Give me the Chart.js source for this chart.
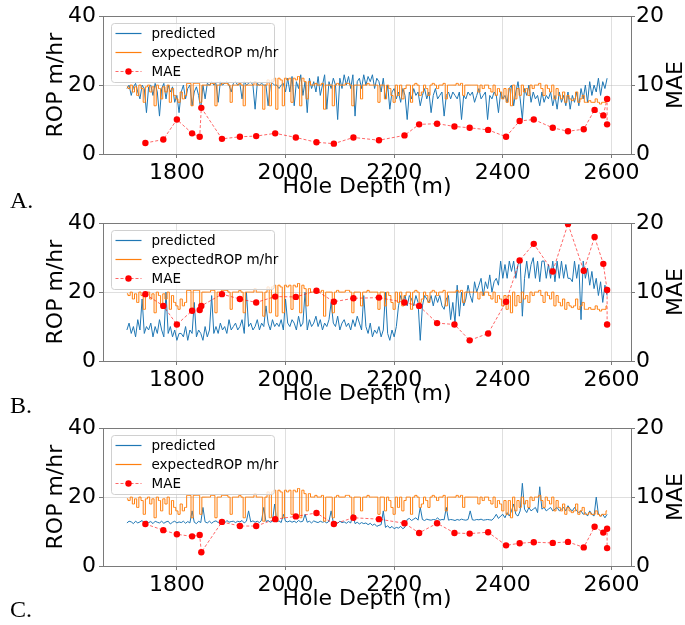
<!DOCTYPE html>
<html>
<head>
<meta charset="utf-8">
<script src="https://cdn.jsdelivr.net/npm/chart.js@4.4.1/dist/chart.umd.min.js"></script>
<style>
  html, body { margin: 0; padding: 0; background: #fff; }
  #wrap { position: relative; width: 685px; height: 625px; overflow: hidden; }
  .panel { position: absolute; left: 0; width: 685px; height: 200px; }
  .tag { position: absolute; left: 10px; font-family: 'Liberation Serif', 'DejaVu Serif', serif; font-size: 24px; line-height: 24px; color: #000; }
</style>
</head>
<body>
<div id="wrap">
  <div class="panel" style="top:0px"><canvas id="chartA" width="685" height="200"></canvas></div>
  <div class="panel" style="top:207px"><canvas id="chartB" width="685" height="200"></canvas></div>
  <div class="panel" style="top:412px"><canvas id="chartC" width="685" height="200"></canvas></div>
  <div class="tag" style="top:188px">A.</div>
  <div class="tag" style="top:393px">B.</div>
  <div class="tag" style="top:597px">C.</div>
</div>
<script>
// depth grid of the ROP traces: 1708 m .. 2592 m every 4 m
const depthStart = 1708;
const depthStep = 4;

const xTicks = [1800, 2000, 2200, 2400, 2600];
const ropTicks = [0, 20, 40];
const maeTicks = [0, 10, 20];
const legendLabels = ['predicted', 'expectedROP m/hr', 'MAE'];
const maeTitle = 'MAE';

// expected ROP (same in all three panels)
const expectedRop = [
  19.5,19,20,18,19.5,17,20,19,15,19.5,20,18,19.5,14,20,19,16,19.5,18,20,15,19,17,16,15,
  18,16,17,20.5,20.5,14,20.5,20.5,20.5,15,20,20,20,20,20.5,20.5,14,20,20,20.5,20.5,20.5,20,15,20,
  20,20,20.5,20,14,20,20,20,20,21,20,20,20,13,20,21.5,14,21.5,22,13,22,21.5,14,22,21.5,
  22,15,22,21.5,22.5,14,22,21,16,21,20,20,20.5,20,20,20.5,13,20,20,20,14,20,20.5,20,20,
  20,20.5,20.5,20,14,20,20,20,16,20,20,20.5,20,20,20,20,15,20,20,16,20,19,17,15,20,
  17,20,16,19,20,20,15,20,20.5,20,17,18,20,19,17,20,20.5,20,19,20,20,20.5,16,20,20,
  20,20,20.5,20,20.5,17,20,20,20,20,20,20,18,20,19,20,20,19,18,20,17,19,18,16,19,
  15,19,14,20,16,19,17,20,18,19,17,20,19,20,20,20.5,19,17,20,19,18,20,16,19,17,
  16,18,15,17,16,15.5,16,18,15,16,17,15,15,15.5,15,15,16,15,14.5,15,15,16
];

const predictedA = [
  19,20,17,19.5,20.5,18,16,20,19,12,19.5,20,17,20.5,18,11,19,20.5,16,20,18,19.5,15,17,12,
  18,20,16,19,20,14,18,19.5,17,13,20,16,20.5,20,21,20,20.5,15,21,20,20.5,21,20,18,20.5,
  21,20,20.5,16,21,20,20.5,21,20,13,20.5,20,20.5,20,20,14,20,20.5,20,20,19,20,20.5,18,22,
  18,22.5,14,21,19,23,17,21,12,22,19,21,18,22.5,17,20,23,13,21,19,22,20,10,22,19,
  23,20,22.5,19,23,11,21,22,19,23,20,22.5,21,23,19,22,21,18,22,16,20,13,18,19,16,
  18,15,19,17,10,18,16,19,17,18,14,17,19,16,18,12,17,19,16,17,18,11,17,18,16,
  18,17,16,18,10,17,16,18,17,18,15,17,19,16,17,18,10,17,16,18,17,12,18,16,17,
  15,19,20,14,18,21,16,10,19,17,20,15,18,16,17,14,18,15,17,16,18,14,17,13,18,
  15,17,14,18,13,17,15,18,14,19,16,20,15,21,17,20,18,22,17,21,19,22
];

const predictedB = [
  9,11,8,10,7,12,9,18,8,10,9,11,7,10,8,12,9,7,20,8,10,7,9,6,8,
  8,7,10,6,9,8,17,7,9,8,6,10,7,9,19,8,10,8,11,9,10,8,12,9,10,
  11,9,10,12,8,20,10,11,9,10,12,9,11,10,16,11,9,12,10,11,10,12,9,18,11,
  10,12,11,9,13,10,11,20,9,12,10,11,13,10,12,9,11,10,12,17,11,10,13,9,11,
  12,10,11,9,12,10,13,11,9,19,10,8,11,7,9,8,10,7,9,20,8,6,9,7,10,
  16,19,17,19,16,19,18,16,19,17,6,16,19,18,17,19,16,19,17,19,16,15,18,19,12,
  17,11,22,13,20,16,18,22,19,17,23,20,22,24,19,23,21,25,20,23,24,22,29,24,28,
  24,29,26,29,24,28,29,13,24,29,24,28,30,24,29,23,29,29,24,28,24,29,23,29,24,
  29,24,28,24,24,23,29,24,28,12,29,24,27,22,26,21,24,19,23,17,22,19
];

const predictedC = [
  12.5,13,12.8,12.3,13,12.5,12.8,13.2,12.4,13,12.6,12.9,12.3,13,12.7,12.5,13,12.4,12.8,13,12.2,12.7,13,12.5,12.8,
  12.6,13,12.4,12.9,12.5,16,12.7,12.3,13,12.6,17,12.8,12.5,13,12.4,12.9,13.1,12.6,13,12.8,12.5,13.2,12.7,12.9,13,
  12.6,13,12.8,13.2,12.5,13,16,12.8,13.1,12.7,13,12.6,13.3,17,12.9,13.2,12.7,13,18,12.8,13.1,12.6,15,13,12.8,
  13.1,12.7,13,12.6,13.2,12.8,13,15,12.7,13,12.5,13.1,12.8,12.6,13,12.7,12.9,12.5,13,16,12.6,12.8,12.4,13,12.6,
  12.8,12.4,12.9,12.5,15,12.3,12.7,12.2,12.6,12.3,12.5,12,12.4,11.8,12.2,11.5,11.8,12,16,11.2,11.7,11,11.5,10.8,11.2,
  11,11.5,10.8,11.3,13.5,13.8,13.2,13.6,14,13.3,17,13.5,13.2,13.6,13.4,13.3,13.5,13.4,14,13.3,13.5,13.4,17,13.3,13.5,
  13.4,13.2,13.5,13.3,13.6,13.4,13.3,13.5,16,13.4,13.3,13.5,13.4,13.6,13.3,13.4,13.5,13.4,13.3,14,15,13.8,14.5,15,14,
  15.5,14.5,16,18,15,14.5,16,24,16.5,15.5,17,16,16.5,17,15.5,23,16.5,17,16,16.5,17,16,16.5,17,16,
  16.5,17,16,17.5,16.5,16,17,16,15.5,16,15,15.5,14.5,16,15,14.5,20,15,14.5,15,14,15
];

// MAE per interval (right axis)
const maeDepth = [1742,1775,1800,1828,1842,1845,1883,1916,1946,1981,2019,2057,2089,2125,2172,
  2219,2246,2279,2311,2339,2373,2406,2431,2457,2492,2520,2549,2569,2585,2592,2592];
const maeA = [1.6,2.1,5.0,3.0,2.5,6.7,2.2,2.5,2.6,3.0,2.4,1.7,1.5,2.4,2.0,
  2.7,4.3,4.4,4.0,3.8,3.5,2.5,4.8,5.0,3.8,3.3,3.6,6.4,5.6,8.0,4.3];
const maeB = [9.7,8.0,5.3,7.3,7.4,8.0,9.7,9.0,8.5,9.35,9.3,10.2,8.6,9.1,9.2,
  8.5,8.0,5.5,5.3,3.0,4.0,8.6,14.6,17.0,13.0,19.9,13.1,18.0,14.1,10.3,5.3];
const maeC = [6.1,5.2,4.6,4.3,4.5,2.0,6.4,5.8,5.8,6.8,7.2,7.7,6.1,7.0,6.8,
  6.2,4.8,6.2,4.8,4.7,4.9,3.0,3.3,3.45,3.35,3.5,2.7,5.7,4.85,5.4,2.6];

const BLUE = '#1f77b4';
const ORANGE = '#ff7f0e';
const RED = '#ff0000';
const FONT = 'DejaVu Sans';

const toPoints = (vals) => vals.map((v, i) => ({ x: depthStart + i * depthStep, y: v }));

// frame around the plot, legend box inside the axes, right axis title (bottom-to-top)
const frameAndLegend = {
  id: 'frameAndLegend',
  afterDatasetsDraw(chart) {
    const { ctx, chartArea: a } = chart;
    ctx.save();
    ctx.strokeStyle = '#7a7a7a';
    ctx.lineWidth = 1;
    ctx.strokeRect(Math.round(a.left) + 0.5, Math.round(a.top) + 0.5,
      Math.round(a.right - a.left), Math.round(a.bottom - a.top));

    const x0 = Math.round(a.left) + 8.5, y0 = Math.round(a.top) + 7.5, w = 163, h = 59;
    ctx.fillStyle = 'rgba(255,255,255,0.8)';
    ctx.strokeStyle = '#d0d0d0';
    ctx.beginPath();
    ctx.roundRect(x0, y0, w, h, 3);
    ctx.fill();
    ctx.stroke();

    const styles = [
      { color: BLUE, dash: [] },
      { color: ORANGE, dash: [] },
      { color: 'rgba(255,0,0,0.6)', dash: [3, 2], marker: true }
    ];
    ctx.font = '13.5px "' + FONT + '"';
    ctx.textBaseline = 'middle';
    legendLabels.forEach((label, i) => {
      const y = y0 + 10 + i * 19;
      const s = styles[i];
      ctx.strokeStyle = s.color;
      ctx.lineWidth = 1.2;
      ctx.setLineDash(s.dash);
      ctx.beginPath();
      ctx.moveTo(x0 + 4, y);
      ctx.lineTo(x0 + 30, y);
      ctx.stroke();
      ctx.setLineDash([]);
      if (s.marker) {
        ctx.fillStyle = RED;
        ctx.beginPath();
        ctx.arc(x0 + 17, y, 3.2, 0, Math.PI * 2);
        ctx.fill();
      }
      ctx.fillStyle = '#000';
      ctx.fillText(label, x0 + 40, y + 1);
    });

    // right axis title, rotated like matplotlib (reads bottom to top)
    ctx.translate(676, (a.top + a.bottom) / 2);
    ctx.rotate(-Math.PI / 2);
    ctx.font = '22px "' + FONT + '"';
    ctx.textAlign = 'center';
    ctx.textBaseline = 'middle';
    ctx.fillStyle = '#000';
    ctx.fillText(maeTitle, 0, 0);
    ctx.restore();
  }
};

function makeChart(id, predicted, mae) {
  return new Chart(document.getElementById(id), {
    type: 'line',
    data: {
      datasets: [
        {
          label: 'predicted',
          data: toPoints(predicted),
          borderColor: BLUE,
          borderWidth: 1,
          pointRadius: 0,
          yAxisID: 'y',
          order: 3
        },
        {
          label: 'expectedROP m/hr',
          data: toPoints(expectedRop),
          borderColor: ORANGE,
          borderWidth: 1,
          pointRadius: 0,
          stepped: 'middle',
          yAxisID: 'y',
          order: 2
        },
        {
          label: 'MAE',
          data: maeDepth.map((d, i) => ({ x: d, y: mae[i] })),
          borderColor: 'rgba(255,0,0,0.6)',
          borderWidth: 1,
          borderDash: [3, 2],
          pointRadius: 3.2,
          pointBackgroundColor: RED,
          pointBorderWidth: 0,
          yAxisID: 'y2',
          order: 1
        }
      ]
    },
    options: {
      responsive: false,
      animation: false,
      devicePixelRatio: 1,
      layout: { padding: { top: 14, left: 0, right: 0, bottom: 0 } },
      plugins: { legend: { display: false }, tooltip: { enabled: false } },
      scales: {
        x: {
          type: 'linear',
          min: 1664,
          max: 2636,
          afterBuildTicks: (s) => { s.ticks = xTicks.map(v => ({ value: v })); },
          afterFit: (s) => { s.height = 46; },
          border: { display: false },
          grid: { color: 'rgba(176,176,176,0.4)', tickColor: '#7a7a7a', tickLength: 4 },
          ticks: {
            autoSkip: false, maxRotation: 0, padding: 2, color: '#000',
            font: { family: FONT, size: 22 },
            callback: (v) => String(v)
          },
          title: {
            display: true, text: 'Hole Depth (m)', color: '#000',
            font: { family: FONT, size: 22 }, padding: { top: 0, bottom: 0 }
          }
        },
        y: {
          position: 'left',
          min: 0,
          max: 40,
          afterBuildTicks: (s) => { s.ticks = ropTicks.map(v => ({ value: v })); },
          afterFit: (s) => { s.width = 103; },
          border: { display: false },
          grid: { color: 'rgba(176,176,176,0.4)', tickColor: '#7a7a7a', tickLength: 4 },
          ticks: { padding: 3, color: '#000', font: { family: FONT, size: 22 }, callback: (v) => String(v) },
          title: {
            display: true, text: 'ROP m/hr', color: '#000',
            font: { family: FONT, size: 22 }, padding: { top: 43, bottom: 0 }
          }
        },
        y2: {
          position: 'right',
          min: 0,
          max: 20,
          afterBuildTicks: (s) => { s.ticks = maeTicks.map(v => ({ value: v })); },
          afterFit: (s) => { s.width = 54; },
          border: { display: false },
          grid: { drawOnChartArea: false, tickColor: '#7a7a7a', tickLength: 4 },
          ticks: { padding: 1, color: '#000', font: { family: FONT, size: 22 }, callback: (v) => String(v) },
          title: { display: false }
        }
      }
    },
    plugins: [frameAndLegend]
  });
}

makeChart('chartA', predictedA, maeA);
makeChart('chartB', predictedB, maeB);
makeChart('chartC', predictedC, maeC);
</script>
</body>
</html>
